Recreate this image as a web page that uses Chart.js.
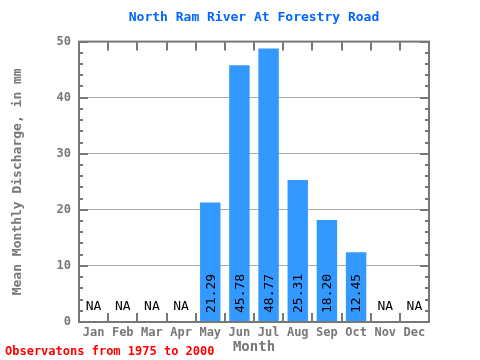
<!DOCTYPE html>
<html>
<head>
<meta charset="utf-8">
<script src="https://cdn.jsdelivr.net/npm/chart.js@4"></script>
<style>
  body { margin: 0; background: #fff; }
  #wrap { width: 480px; height: 360px; }
</style>
</head>
<body>
<div id="wrap"><canvas id="flowChart"></canvas></div>
<script>
const months = ['Jan', 'Feb', 'Mar', 'Apr', 'May', 'Jun', 'Jul', 'Aug', 'Sep', 'Oct', 'Nov', 'Dec'];
const discharge = [null, null, null, null, 21.29, 45.78, 48.77, 25.31, 18.20, 12.45, null, null];
const yTicks = [0, 10, 20, 30, 40, 50];

const mono = '"DejaVu Sans Mono", monospace';
const axisGray = 'rgb(119, 119, 119)';

/* frame, inward ticks, value labels, footer */
const decorPlugin = {
    id: 'decor',
    afterDatasetsDraw(chart) {
        const ctx = chart.ctx;
        const a = chart.chartArea;
        const x = chart.scales.x;
        const y = chart.scales.y;
        ctx.save();

        // value labels and NA
        ctx.fillStyle = '#000';
        ctx.font = '13px ' + mono;
        for (var i = 0; i < months.length; i++) {
            var cx = x.getPixelForValue(i);
            if (discharge[i] === null) {
                ctx.textAlign = 'center';
                ctx.textBaseline = 'middle';
                ctx.fillText('NA', cx, a.bottom - 15);
            } else {
                ctx.save();
                ctx.translate(cx, a.bottom - 9);
                ctx.rotate(-Math.PI / 2);
                ctx.textAlign = 'left';
                ctx.textBaseline = 'middle';
                ctx.fillText(discharge[i].toFixed(2), 0, 1);
                ctx.restore();
            }
        }

        ctx.strokeStyle = axisGray;
        ctx.lineWidth = 2;
        ctx.beginPath();
        // y ticks: major every 10, minor every 2
        for (var v = 0; v <= 50; v += 2) {
            var py = Math.round(y.getPixelForValue(v));
            var len = (v % 10 === 0) ? 9 : 4;
            ctx.moveTo(a.left, py); ctx.lineTo(a.left + len, py);
            ctx.moveTo(a.right, py); ctx.lineTo(a.right - len, py);
        }
        // x ticks at category boundaries
        for (var j = 1; j < months.length; j++) {
            var px = Math.round((x.getPixelForValue(j - 1) + x.getPixelForValue(j)) / 2);
            ctx.moveTo(px, a.top); ctx.lineTo(px, a.top + 9);
            ctx.moveTo(px, a.bottom); ctx.lineTo(px, a.bottom - 9);
        }
        ctx.stroke();
        ctx.strokeRect(a.left, a.top, a.right - a.left, a.bottom - a.top);

        // footer
        ctx.fillStyle = 'rgb(255, 0, 0)';
        ctx.font = 'bold 12px ' + mono;
        ctx.textAlign = 'left';
        ctx.textBaseline = 'middle';
        ctx.fillText('Observatons from 1975 to 2000', 5, 352);
        ctx.restore();
    }
};

const flowConfig = {
    type: 'bar',
    data: {
        labels: months,
        datasets: [{
            label: 'Mean Monthly Discharge',
            data: discharge,
            backgroundColor: 'rgb(51, 153, 255)',
            borderWidth: 0,
            barPercentage: 0.7,
            categoryPercentage: 1.0
        }]
    },
    options: {
        responsive: false,
        animation: false,
        layout: { padding: { left: 0, right: 51, top: 0, bottom: 0 } },
        plugins: {
            legend: { display: false },
            tooltip: { enabled: false },
            title: {
                display: true,
                fullSize: false,
                text: 'North Ram River At Forestry Road',
                color: 'rgb(0, 102, 255)',
                font: { family: mono, size: 13, weight: 'bold' },
                padding: { top: 10, bottom: 16 }
            }
        },
        scales: {
            x: {
                grid: { display: false, drawTicks: false },
                border: { display: false },
                ticks: {
                    color: axisGray,
                    font: { family: mono, size: 12, weight: 'bold' },
                    padding: 4,
                    maxRotation: 0
                },
                title: {
                    display: true,
                    text: 'Month',
                    color: axisGray,
                    font: { family: mono, size: 14, weight: 'bold' },
                    padding: { top: 0, bottom: 4 }
                },
                afterFit: function(scale) { scale.height = 38; }
            },
            y: {
                min: 0,
                max: 50,
                afterBuildTicks: function(scale) {
                    scale.ticks = yTicks.map(function(v) { return { value: v }; });
                },
                grid: {
                    drawTicks: false,
                    color: function(c) {
                        return (c.tick.value === 0 || c.tick.value === 50) ? 'rgba(0,0,0,0)' : 'rgb(170, 170, 170)';
                    },
                    lineWidth: 1
                },
                border: { display: false },
                ticks: {
                    color: axisGray,
                    font: { family: mono, size: 12, weight: 'bold' },
                    padding: 8
                },
                title: {
                    display: true,
                    text: 'Mean Monthly Discharge, in mm',
                    color: axisGray,
                    font: { family: mono, size: 13, weight: 'bold' },
                    padding: { top: 10, bottom: 0 }
                },
                afterFit: function(scale) { scale.width = 79; }
            }
        }
    },
    plugins: [decorPlugin]
};

var canvas = document.getElementById('flowChart');
canvas.width = 480;
canvas.height = 360;
window.flowChart = new Chart(canvas.getContext('2d'), flowConfig);
</script>
</body>
</html>
